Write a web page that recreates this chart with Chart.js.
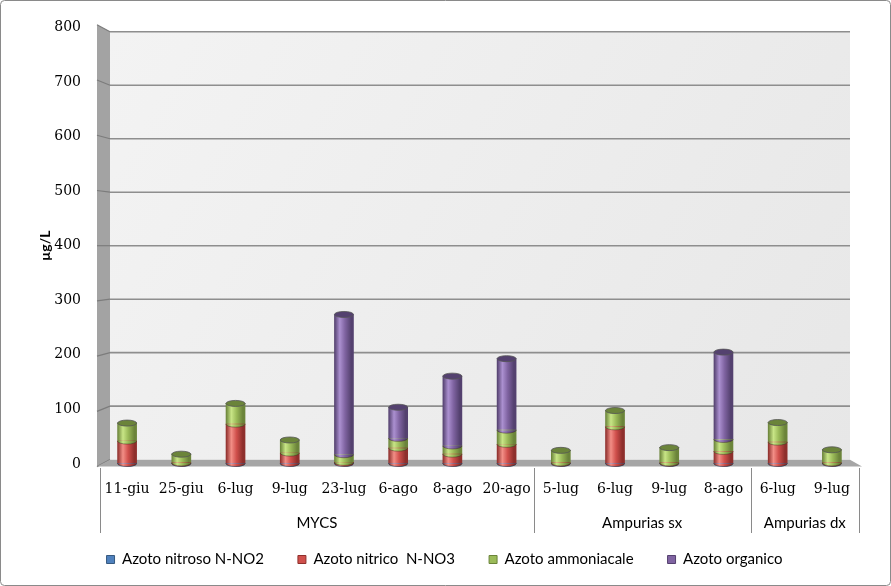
<!DOCTYPE html>
<html>
<head>
<meta charset="utf-8">
<script src="https://cdn.jsdelivr.net/npm/chart.js@4"></script>
<style>
  html, body { margin: 0; padding: 0; background: #fff; }
  #wrap { width: 891px; height: 586px; }
</style>
</head>
<body>
<div id="wrap"><canvas id="grafico" width="891" height="586"></canvas></div>
<script>
// Dati (µg/L)
const categorie = ['11-giu', '25-giu', '6-lug', '9-lug', '23-lug', '6-ago', '8-ago', '20-ago',
                   '5-lug', '6-lug', '9-lug', '8-ago', '6-lug', '9-lug'];
const gruppi = ['MYCS', 'Ampurias sx', 'Ampurias dx'];
const dimGruppi = [8, 4, 2];

const nomiSerie = ['Azoto nitroso N-NO2', 'Azoto nitrico  N-NO3', 'Azoto ammoniacale', 'Azoto organico'];
const nitroso     = [1, 1, 1, 1, 1, 1, 1, 1, 1, 1, 1, 1, 1, 1];
const nitrico     = [41, 1, 72, 19, 2, 28, 17, 35, 1, 67, 1, 22, 39, 1];
const ammoniacale = [33, 16, 38, 24, 14, 18, 15, 26, 23, 30, 28, 22, 36, 24];
const organico    = [0, 0, 0, 0, 257, 57, 128, 131, 0, 0, 0, 160, 0, 0];

const yMax = 800;
const yPasso = 100;

// colori: base, chiaro, scuro
const colBase   = ['#4F81BD', '#D0504C', '#9BBB59', '#8064A2'];
const colChiaro = ['#86aae0', '#f28e86', '#c8e586', '#ab90d0'];
const colScuro  = ['#36597f', '#8e2f2c', '#6b843a', '#54416f'];

function gradiente(c, x, w, d) {
    const g = c.createLinearGradient(x - w / 2, 0, x + w / 2, 0);
    g.addColorStop(0, colScuro[d]);
    g.addColorStop(0.28, colChiaro[d]);
    g.addColorStop(0.55, colBase[d]);
    g.addColorStop(0.88, colScuro[d]);
    g.addColorStop(1, colScuro[d]);
    return g;
}

function coloreBarra(d) {
    return function (ctx) {
        const chart = ctx.chart;
        if (!chart.chartArea || ctx.type !== 'data') return colBase[d];
        const x = chart.scales.x.getPixelForValue(ctx.dataIndex);
        return gradiente(chart.ctx, x, 19, d);
    };
}

// cornice esterna
const cornice = {
    id: 'cornice',
    beforeDraw(chart) {
        const c = chart.ctx;
        c.save();
        c.fillStyle = '#fff';
        c.fillRect(0, 0, chart.width, chart.height);
        c.strokeStyle = '#8a8a8a';
        c.lineWidth = 1;
        c.beginPath();
        c.roundRect(0.5, 0.5, chart.width - 1, chart.height - 1, 4);
        c.stroke();
        c.restore();
    }
};

// pareti 3D e griglia
const pareti = {
    id: 'pareti',
    beforeDatasetsDraw(chart) {
        const c = chart.ctx;
        const a = chart.chartArea;
        const y = chart.scales.y;
        const mid = (y.getPixelForValue(y.min) + y.getPixelForValue(y.max)) / 2;
        const fy = v => mid + (y.getPixelForValue(v) - mid) * 1.012;
        const by = v => mid + (y.getPixelForValue(v) - mid) * 0.98;
        const xl0 = a.left - 3, xl1 = a.left + 10, xr0 = a.right + 3, xr1 = a.right - 9;

        c.save();
        // parete di fondo
        const g = c.createLinearGradient(xl1, by(y.max), xr1, by(y.min));
        g.addColorStop(0, '#f3f3f3');
        g.addColorStop(1, '#e7e7e7');
        c.fillStyle = g;
        c.fillRect(xl1, by(y.max), xr1 - xl1, by(y.min) - by(y.max));

        // parete laterale
        c.fillStyle = '#a3a3a3';
        c.beginPath();
        c.moveTo(xl0, fy(y.max)); c.lineTo(xl1, by(y.max));
        c.lineTo(xl1, by(y.min)); c.lineTo(xl0, fy(y.min));
        c.closePath(); c.fill();

        // griglia
        y.ticks.forEach(t => {
            const v = t.value;
            c.strokeStyle = '#7c7c7c';
            c.lineWidth = 1.2;
            c.beginPath(); c.moveTo(xl0, fy(v)); c.lineTo(xl1, by(v)); c.stroke();
            if (v > y.min) {
                c.strokeStyle = '#8e8e8e';
                c.lineWidth = 1.6;
                c.beginPath(); c.moveTo(xl1, by(v)); c.lineTo(xr1, by(v)); c.stroke();
            }
        });

        // pavimento
        c.fillStyle = '#a6a6a6';
        c.beginPath();
        c.moveTo(xl0, fy(y.min)); c.lineTo(xl1, by(y.min));
        c.lineTo(xr1, by(y.min)); c.lineTo(xr0, fy(y.min));
        c.closePath(); c.fill();
        c.restore();
    }
};

// effetto cilindro: basi ellittiche e coperchio
const cilindri = {
    id: 'cilindri',
    afterDatasetsDraw(chart) {
        const c = chart.ctx;
        c.save();
        for (let i = 0; i < categorie.length; i++) {
            let topEl = null, topD = -1;
            chart.data.datasets.forEach((ds, d) => {
                const el = chart.getDatasetMeta(d).data[i];
                if (!el || !(ds.data[i] > 0)) return;
                const rx = el.width / 2;
                c.fillStyle = gradiente(c, el.x, el.width, d);
                c.beginPath();
                c.ellipse(el.x, el.base, rx, 3, 0, 0, Math.PI);
                c.fill();
                if (topEl) {
                    c.strokeStyle = 'rgba(60,40,30,0.45)';
                    c.lineWidth = 1;
                    c.beginPath();
                    c.ellipse(el.x, el.base, rx, 3, 0, 0, Math.PI);
                    c.stroke();
                }
                topEl = el; topD = d;
            });
            if (topEl) {
                c.fillStyle = colScuro[topD];
                c.strokeStyle = '#555';
                c.lineWidth = 0.8;
                c.beginPath();
                c.ellipse(topEl.x, topEl.y, topEl.width / 2, 3, 0, 0, Math.PI * 2);
                c.fill();
                c.stroke();
            }
        }
        c.restore();
    }
};

// etichette dei gruppi e separatori
const etichetteGruppi = {
    id: 'etichetteGruppi',
    afterDraw(chart) {
        const c = chart.ctx;
        const a = chart.chartArea;
        const x = chart.scales.x;
        const half = (x.getPixelForValue(1) - x.getPixelForValue(0)) / 2;
        const y0 = a.bottom + 4, y1 = a.bottom + 69;
        c.save();
        c.strokeStyle = '#8a8a8a';
        c.lineWidth = 1;
        const linea = px => {
            const xx = Math.round(px) + 0.5;
            c.beginPath(); c.moveTo(xx, y0); c.lineTo(xx, y1); c.stroke();
        };
        linea(x.getPixelForValue(0) - half);
        c.fillStyle = '#000';
        c.font = '15px Lato';
        c.textAlign = 'center';
        c.textBaseline = 'middle';
        let inizio = 0;
        gruppi.forEach((nome, k) => {
            const fine = inizio + dimGruppi[k] - 1;
            const xl = x.getPixelForValue(inizio) - half;
            const xr = x.getPixelForValue(fine) + half;
            linea(xr);
            c.fillText(nome, (xl + xr) / 2, a.bottom + 59);
            inizio = fine + 1;
        });
        c.restore();
    }
};

const serie = [nitroso, nitrico, ammoniacale, organico];

new Chart(document.getElementById('grafico'), {
    type: 'bar',
    data: {
        labels: categorie,
        datasets: serie.map((dati, d) => ({
            label: nomiSerie[d],
            data: dati,
            backgroundColor: coloreBarra(d),
            borderWidth: 0,
            barThickness: 19
        }))
    },
    options: {
        responsive: false,
        animation: false,
        layout: { padding: { left: 30, right: 32, top: 27, bottom: 9 } },
        scales: {
            x: {
                stacked: true,
                grid: { display: false, drawTicks: false },
                border: { display: false },
                ticks: {
                    autoSkip: false, maxRotation: 0, padding: 17,
                    color: '#000', font: { family: 'DejaVu Serif', size: 14 }
                },
                afterFit(scale) { scale.height = 54; }
            },
            y: {
                stacked: true,
                min: 0, max: yMax,
                grid: { display: false, drawTicks: false },
                border: { display: false },
                ticks: {
                    stepSize: yPasso, padding: 19,
                    color: '#000', font: { family: 'DejaVu Serif', size: 14 }
                },
                title: {
                    display: true, text: 'µg/L', color: '#000',
                    font: { family: 'Lato', size: 14, weight: 'bold' },
                    padding: { top: 7, bottom: 0 }
                },
                afterFit(scale) { scale.width = 70; }
            }
        },
        plugins: {
            tooltip: { enabled: false },
            legend: {
                position: 'bottom',
                labels: {
                    boxWidth: 8, boxHeight: 8, padding: 34,
                    color: '#000', font: { family: 'Lato', size: 15 },
                    generateLabels: () => nomiSerie.map((n, d) => ({
                        text: n, fillStyle: colBase[d], strokeStyle: colScuro[d],
                        lineWidth: 1, datasetIndex: d, hidden: false
                    }))
                }
            }
        }
    },
    plugins: [cornice, pareti, cilindri, etichetteGruppi]
});
</script>
</body>
</html>
